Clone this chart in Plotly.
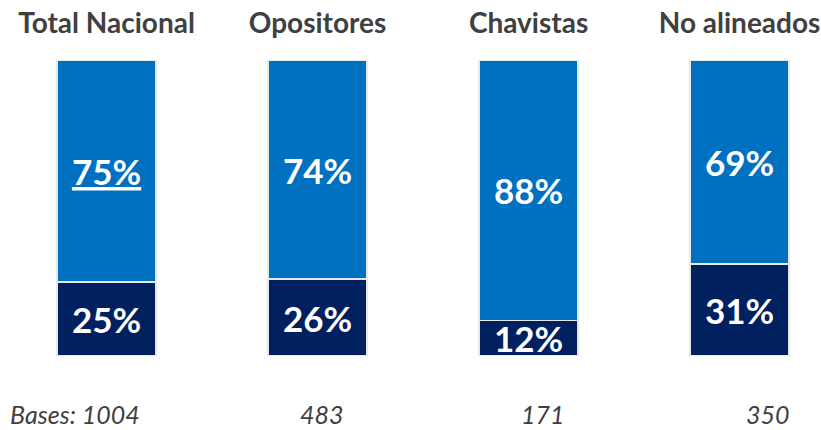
import plotly.graph_objects as go

categories = ["Total Nacional", "Opositores", "Chavistas", "No alineados"]
top_values = [75, 74, 88, 69]
bottom_values = [25, 26, 12, 31]
bases = ["Bases: 1004", "483", "171", "350"]
top_labels = ["<u>75%</u>", "74%", "88%", "69%"]
bottom_labels = ["25%", "26%", "12%", "31%"]

FONT = "Lato, Open Sans, sans-serif"
BLUE = "#0070c0"
NAVY = "#002060"
GREY = "#404040"
W, H = 821, 430
T, B = 60, 74

fig = go.Figure()
for vals, labels, color in [(bottom_values, bottom_labels, NAVY), (top_values, top_labels, BLUE)]:
    fig.add_trace(go.Bar(
        x=categories, y=vals,
        marker=dict(color=color, line=dict(color="#e8e8e8", width=1.5)),
        width=0.47, text=labels, textposition="inside", insidetextanchor="middle",
        constraintext="none",
        textfont=dict(family=FONT, size=35, color="white", weight="bold"), textangle=0,
        hoverinfo="skip"))

fig.update_layout(
    barmode="stack", width=W, height=H,
    margin=dict(l=0, r=0, t=T, b=B, autoexpand=False),
    paper_bgcolor="white", plot_bgcolor="white",
    showlegend=False, bargap=0,
    font=dict(family=FONT, color=GREY),
)
fig.update_xaxes(range=[-0.505, 3.386], side="top", showgrid=False, zeroline=False,
                 showline=False, ticks="", ticklabelstandoff=20, automargin=False,
                 tickfont=dict(family=FONT, size=28, color=GREY, weight="bold"))
fig.update_yaxes(range=[0, 100], visible=False, fixedrange=True, automargin=False)

# bases row: (x in px, anchor)
base_pos = [(8, "left"), (322, "center"), (543, "center"), (768, "center")]
plot_h = H - T - B
annots = []
for (bx, anc), b in zip(base_pos, bases):
    annots.append(dict(x=bx / W, y=-(414 - (H - B)) / plot_h, xref="paper", yref="paper",
                       text=f"<i>{b}</i>", showarrow=False, xanchor=anc, yanchor="middle",
                       font=dict(family=FONT, size=25, color=GREY)))
fig.update_layout(annotations=annots)

fig.write_html("out.html", config={"displayModeBar": False, "staticPlot": True},
               post_script="document.body.style.margin='0px';document.body.style.overflow='hidden';")
